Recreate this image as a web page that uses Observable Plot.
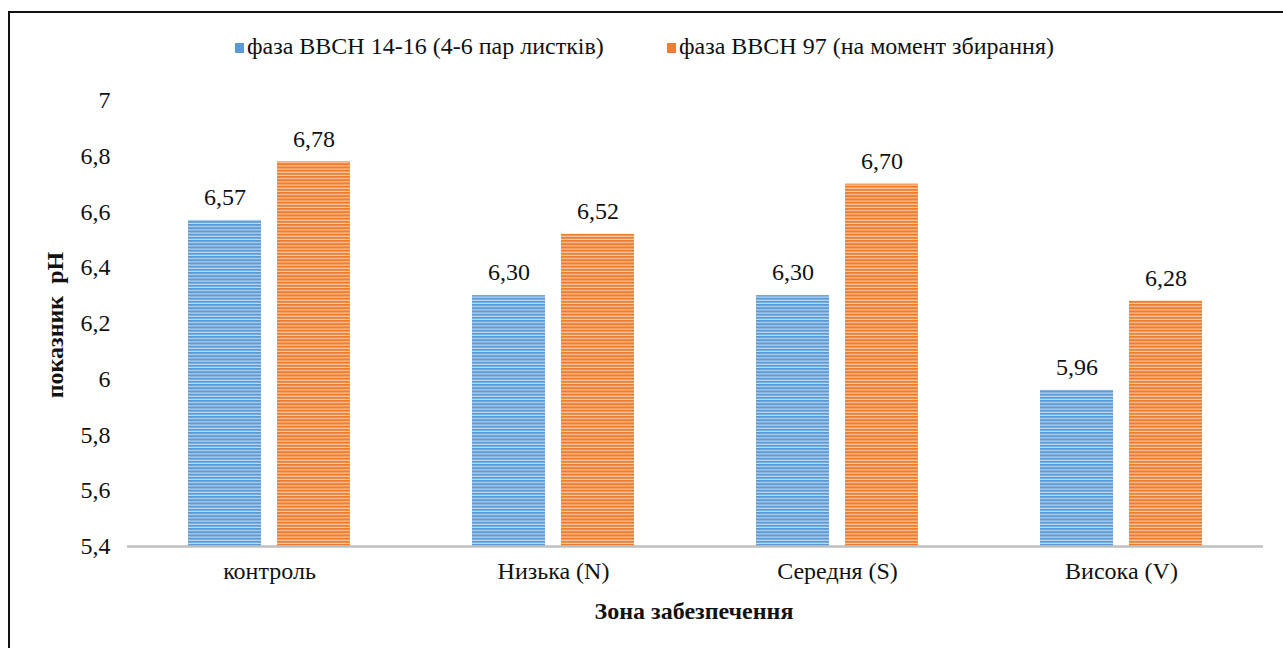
<!DOCTYPE html>
<html>
<head>
<meta charset="utf-8">
<script src="https://cdn.jsdelivr.net/npm/d3@7"></script>
<script src="https://cdn.jsdelivr.net/npm/@observablehq/plot@0.6"></script>
<style>
  html, body { margin: 0; padding: 0; background: #fff; }
  body { width: 1283px; height: 648px; position: relative; overflow: hidden; font-family: "Liberation Serif", "Times New Roman", serif; }
  #frame { position: absolute; left: 8px; top: 11px; width: 1300px; height: 700px; border-left: 2px solid #111; border-top: 2px solid #111; }
  #chart { position: absolute; left: 0; top: 0; }
  #legend { position: absolute; top: 33px; left: 0; width: 1283px; height: 30px; font-size: 24px; color: #111; }
  #legend .item { position: absolute; top: 0; white-space: nowrap; }
  #legend .sw { display: inline-block; width: 9px; height: 10px; margin-right: 3px; vertical-align: 1px; }
</style>
</head>
<body>
<div id="frame"></div>
<div id="chart"></div>
<div id="legend"></div>
<script>
const categories = ["контроль", "Низька (N)", "Середня (S)", "Висока (V)"];
const series = ["фаза BBCH 14-16 (4-6 пар листків)", "фаза BBCH 97 (на момент збирання)"];
const valuesBBCH1416 = [6.57, 6.30, 6.30, 5.96];
const valuesBBCH97 = [6.78, 6.52, 6.70, 6.28];
const yTicks = [5.4, 5.6, 5.8, 6.0, 6.2, 6.4, 6.6, 6.8, 7.0];
const seriesColors = ["#5b9bd5", "#ed7d31"];
const seriesFills = ["url(#stripeBlue)", "url(#stripeOrange)"];

const data = [];
categories.forEach((c, i) => {
  data.push({zone: c, series: series[0], value: valuesBBCH1416[i]});
  data.push({zone: c, series: series[1], value: valuesBBCH97[i]});
});

const fmt = d => (Math.round(d * 10) / 10).toString().replace(".", ",");
const fmt2 = d => d.toFixed(2).replace(".", ",");
const FONT = "'Liberation Serif', 'Times New Roman', serif";

const chart = Plot.plot({
  width: 1283,
  height: 648,
  marginLeft: 127,
  marginRight: 20,
  marginTop: 100,
  marginBottom: 102,
  style: {fontFamily: FONT, fontSize: "24px", color: "#111", background: "transparent"},
  fx: {domain: categories, paddingInner: 0, paddingOuter: 0, label: null, axis: null},
  x: {domain: series, paddingInner: 0.178, paddingOuter: 0.667, axis: null},
  y: {domain: [5.4, 7], ticks: yTicks, tickFormat: fmt, label: null},
  marks: [
    Plot.axisY({ticks: yTicks, tickFormat: fmt, tickSize: 0, tickPadding: 17, label: null, fontSize: 24, fontFamily: FONT}),
    Plot.barY(data, {fx: "zone", x: "series", y1: 5.4, y2: "value", fill: d => d.series === series[0] ? seriesFills[0] : seriesFills[1]}),
    Plot.text(data, {fx: "zone", x: "series", y: "value", text: d => fmt2(d.value), dy: -23, fontSize: 24, fontFamily: FONT, fill: "#111"}),
    Plot.ruleY([5.4], {stroke: "#bfbfbf", strokeWidth: 2.5}),
    Plot.text(categories, {fx: d => d, frameAnchor: "bottom", dy: 32, text: d => d, fontSize: 24, fontFamily: FONT, fill: "#111"})
  ]
});

// stripe patterns
const ns = "http://www.w3.org/2000/svg";
const defs = document.createElementNS(ns, "defs");
function addPattern(id, dark, light) {
  const p = document.createElementNS(ns, "pattern");
  p.setAttribute("id", id);
  p.setAttribute("patternUnits", "userSpaceOnUse");
  p.setAttribute("width", 8);
  p.setAttribute("height", 3.2);
  const r1 = document.createElementNS(ns, "rect");
  r1.setAttribute("width", 8); r1.setAttribute("height", 3.2); r1.setAttribute("fill", dark);
  const r2 = document.createElementNS(ns, "rect");
  r2.setAttribute("y", 2.1); r2.setAttribute("width", 8); r2.setAttribute("height", 1.1); r2.setAttribute("fill", light);
  p.appendChild(r1); p.appendChild(r2);
  defs.appendChild(p);
}
addPattern("stripeBlue", "#5b9bd5", "#c6dbf2");
addPattern("stripeOrange", "#ed7d31", "#f8cfae");
chart.insertBefore(defs, chart.firstChild);

// axis titles
const g = document.createElementNS(ns, "g");
g.setAttribute("font-family", FONT);
g.setAttribute("font-weight", "bold");
g.setAttribute("font-size", "24");
g.setAttribute("fill", "#111");
const yl = document.createElementNS(ns, "text");
yl.setAttribute("transform", "translate(63,325) rotate(-90)");
yl.setAttribute("text-anchor", "middle");
yl.textContent = "показник  рН";
const xl = document.createElementNS(ns, "text");
xl.setAttribute("x", 694); xl.setAttribute("y", 619);
xl.setAttribute("text-anchor", "middle");
xl.textContent = "Зона забезпечення";
g.appendChild(yl); g.appendChild(xl);
chart.appendChild(g);

document.getElementById("chart").appendChild(chart);

const legend = document.getElementById("legend");
const legendLeft = [235, 667];
series.forEach((s, i) => {
  const item = document.createElement("span");
  item.className = "item";
  item.style.left = legendLeft[i] + "px";
  const sw = document.createElement("span");
  sw.className = "sw";
  sw.style.background = seriesColors[i];
  item.appendChild(sw);
  item.appendChild(document.createTextNode(s));
  legend.appendChild(item);
});
</script>
</body>
</html>
